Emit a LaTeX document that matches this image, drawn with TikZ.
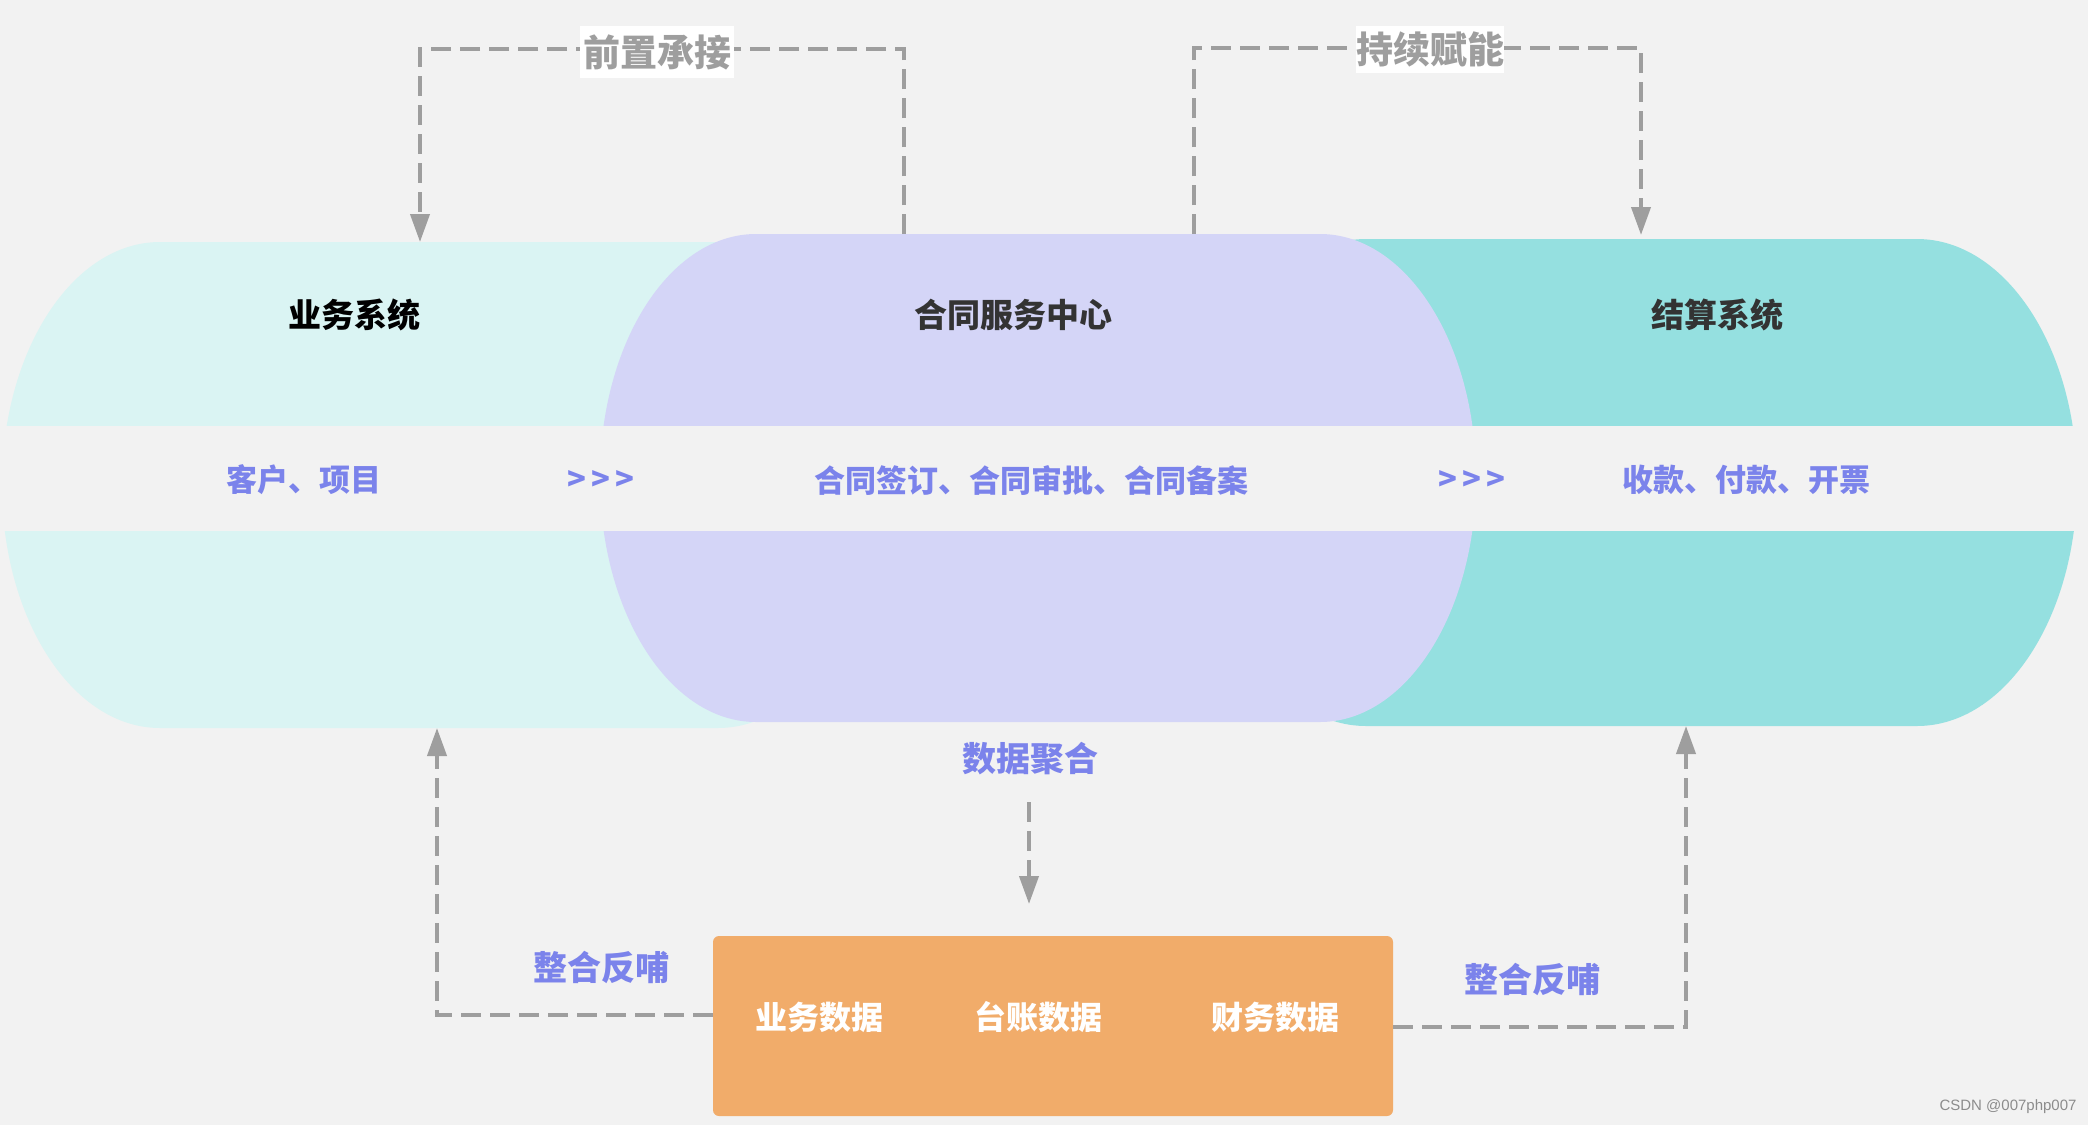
\documentclass[tikz,border=0pt]{standalone}
\usepackage{fontspec}
\newfontfamily\cjk{Noto Sans CJK SC}
\newfontfamily\wmfont{Liberation Sans}
\usetikzlibrary{arrows.meta}
\definecolor{bg}{HTML}{F2F2F2}
\definecolor{cyanfill}{HTML}{DAF4F3}
\definecolor{purplefill}{HTML}{D4D5F7}
\definecolor{tealfill}{HTML}{95E0E0}
\definecolor{orangefill}{HTML}{F1AC6A}
\definecolor{bluetext}{HTML}{7B83EB}
\definecolor{graylink}{HTML}{9E9E9E}
\definecolor{darktext}{HTML}{333333}
\newcommand\sysshape[6]{%
  \pgfmathsetmacro\cxl{#1+#5}\pgfmathsetmacro\cxr{#2-#5}%
  \pgfmathsetmacro\cmid{(#3+#4)/2}%
  \pgfmathsetmacro\kx{0.5523*#5}\pgfmathsetmacro\ky{0.5523*(#4-#3)/2}%
  \fill[#6] (\cxl,#3) -- (\cxr,#3)
    .. controls ({\cxr+\kx},#3) and (#2,{\cmid-\ky}) .. (#2,\cmid)
    .. controls (#2,{\cmid+\ky}) and ({\cxr+\kx},#4) .. (\cxr,#4)
    -- (\cxl,#4)
    .. controls ({\cxl-\kx},#4) and (#1,{\cmid+\ky}) .. (#1,\cmid)
    .. controls (#1,{\cmid-\ky}) and ({\cxl-\kx},#3) .. (\cxl,#3) -- cycle;}
\begin{document}
\begin{tikzpicture}[x=1pt,y=-1pt,
  title/.style={font=\cjk\bfseries\fontsize{33}{36}\selectfont, inner sep=0pt},
  item/.style={font=\cjk\bfseries\fontsize{31}{34}\selectfont, text=bluetext, inner sep=0pt},
  flowlabel/.style={font=\cjk\bfseries\fontsize{34}{37}\selectfont, text=bluetext, inner sep=0pt},
  glabel/.style={font=\cjk\bfseries\fontsize{37}{40}\selectfont, text=graylink, fill=white, inner sep=0pt},
  dl/.style={draw=graylink, line width=4pt, dash pattern=on 20pt off 9pt},
  tip/.style={-{Triangle[length=28pt,width=19pt]}},
  databox/.style={fill=orangefill, rounded corners=6pt, minimum width=680pt, minimum height=180pt, inner sep=0pt},
  datatext/.style={font=\cjk\bfseries\fontsize{32}{35}\selectfont, text=white, inner sep=0pt}]
\useasboundingbox (0,0) rectangle (2088,1125);
\fill[bg] (0,0) rectangle (2088,1125);
% three system shapes
\sysshape{2}{876}{242}{728}{158}{cyanfill}
\sysshape{1206}{2077}{239}{726}{160}{tealfill}
\sysshape{600}{1476}{234}{722}{156}{purplefill}
% band
\fill[bg] (0,426) rectangle (2088,531);
% titles
\node[title, text=black] (ywxt) at (354,315) {业务系统};
\node[title, text=darktext] (htfw) at (1013,315) {合同服务中心};
\node[title, text=darktext] (jsxt) at (1717,315) {结算系统};
% band items
\node[item] (khxm) at (304,480) {客户、项目};
\node[item] (arr1) at (601,480) {>\,>\,>};
\node[item] (htqd) at (1031,480) {合同签订、合同审批、合同备案};
\node[item] (arr2) at (1472,480) {>\,>\,>};
\node[item] (skfk) at (1746,480) {收款、付款、开票};
% anchor coordinates on shapes
\coordinate (purpleTopL) at (904,234);
\coordinate (cyanTop) at (420,242);
\coordinate (purpleTopR) at (1194,234);
\coordinate (tealTop) at (1641,235);
\coordinate (cyanBot) at (437,728);
\coordinate (tealBot) at (1686,726);
\coordinate (l1) at (657,49);
\coordinate (l2) at (1430,48);
% top connectors
\draw[dl,tip] (purpleTopL) |- (l1) -| (cyanTop);
\node[glabel, minimum width=154pt, minimum height=52pt] (qzcj) at (657,52) {前置承接};
\draw[dl,tip] (purpleTopR) |- (l2) -| (tealTop);
\node[glabel, minimum width=145pt, minimum height=47pt] (cxfn) at (1430,49.5) {持续赋能};
% data box
\node[databox] (dbox) at (1053,1026) {};
\node[datatext] (ywsj) at (819,1017) {业务数据};
\node[datatext] (tzsj) at (1038,1017) {台账数据};
\node[datatext] (cwsj) at (1275,1017) {财务数据};
% aggregation
\node[flowlabel] (sjjh) at (1030,759) {数据聚合};
\coordinate (aggStart) at (1029,802);
\coordinate (aggEnd) at (1029,904);
\draw[dl,tip] (aggStart) -- (aggEnd);
% feedback
\draw[dl,tip] ([yshift=11pt]dbox.west) -| (cyanBot);
\draw[dl,tip] ([yshift=-1pt]dbox.east) -| (tealBot);
\node[flowlabel] (zhfb1) at (601,967) {整合反哺};
\node[flowlabel] (zhfb2) at (1532,979) {整合反哺};
% watermark
\node[font=\wmfont\fontsize{15}{17}\selectfont, text=black!45, inner sep=0pt] (wm) at (2008,1107) {CSDN @007php007};
\end{tikzpicture}
\end{document}
